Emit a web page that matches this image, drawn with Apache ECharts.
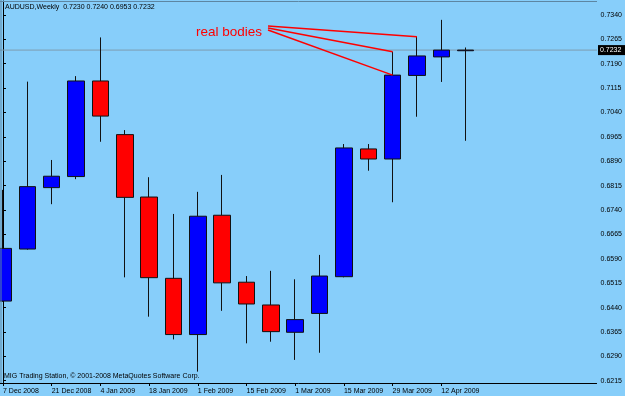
<!DOCTYPE html>
<html><head><meta charset="utf-8">
<script src="https://cdn.jsdelivr.net/npm/echarts@6/dist/echarts.min.js"></script>
<style>html,body{margin:0;padding:0;background:#87CEFA}#c{width:625px;height:396px}</style>
</head><body><div id="c"></div>
<script>
// Weekly candles (AUDUSD)
const weeks = ['7 Dec 2008','14 Dec 2008','21 Dec 2008','28 Dec 2008','4 Jan 2009','11 Jan 2009','18 Jan 2009','25 Jan 2009','1 Feb 2009','8 Feb 2009','15 Feb 2009','22 Feb 2009','1 Mar 2009','8 Mar 2009','15 Mar 2009','22 Mar 2009','29 Mar 2009','5 Apr 2009','12 Apr 2009','19 Apr 2009'];
const opens  = [0.6460,0.6620,0.6809,0.6843,0.7137,0.6972,0.6780,0.6530,0.6357,0.6724,0.6518,0.6448,0.6364,0.6422,0.6535,0.6928,0.6897,0.7154,0.7211,0.7230];
const highs  = [0.6802,0.7135,0.6894,0.7152,0.7271,0.6986,0.6841,0.6728,0.6796,0.6848,0.6537,0.6553,0.6527,0.6602,0.6943,0.6943,0.7227,0.7273,0.7325,0.7240];
const lows   = [0.6458,0.6618,0.6758,0.6835,0.6950,0.6533,0.6412,0.6342,0.6243,0.6430,0.6330,0.6335,0.6279,0.6301,0.6533,0.6861,0.6764,0.7027,0.7134,0.6953];
const closes = [0.6622,0.6812,0.6844,0.7137,0.7029,0.6779,0.6532,0.6357,0.6721,0.6516,0.6451,0.6366,0.6403,0.6537,0.6931,0.6897,0.7155,0.7214,0.7232,0.7232];
const xTickWeeks = ['7 Dec 2008','21 Dec 2008','4 Jan 2009','18 Jan 2009','1 Feb 2009','15 Feb 2009','1 Mar 2009','15 Mar 2009','29 Mar 2009','12 Apr 2009'];
const yTickValues = [0.6215,0.6290,0.6365,0.6440,0.6515,0.6590,0.6665,0.6740,0.6815,0.6890,0.6965,0.7040,0.7115,0.7190,0.7265,0.7340];
const symbolTitle = 'AUDUSD,Weekly';
const copyrightText = 'MIG Trading Station, \u00A9 2001-2008 MetaQuotes Software Corp.';
const annotationText = 'real bodies';
const annotationTargets = [[17,'high'],[16,'high'],[16,'close']];

const FONT = 'Liberation Sans';
const candleData = opens.map((o,i)=>[i, o, closes[i], lows[i], highs[i]]);
const xTickIdx = xTickWeeks.map(w => weeks.indexOf(w));
const last = opens.length - 1;
const titleStr = symbolTitle + '  ' + [opens[last], highs[last], lows[last], closes[last]].map(v=>v.toFixed(4)).join(' ');

const chart = echarts.init(document.getElementById('c'), null, {renderer:'canvas'});
const option = {
  backgroundColor: '#87CEFA',
  animation: false,
  grid: {left: 0, right: 28, top: 1, bottom: 13, show: false},
  xAxis: {
    type: 'value', min: -0.111, max: 24.376,
    axisLine: {show: true, lineStyle: {color: '#000', width: 1}},
    axisTick: {show: true, length: 3, lineStyle: {color: '#000'}, customValues: xTickIdx},
    axisLabel: {customValues: xTickIdx, formatter: v => weeks[Math.round(v)] || '',
      align: 'left', margin: 5, fontFamily: FONT, fontSize: 7, color: '#000'},
    splitLine: {show: false}
  },
  yAxis: {
    type: 'value', position: 'right', min: 0.6208, max: 0.7383,
    axisLine: {show: true, lineStyle: {color: '#000', width: 1}},
    axisTick: {show: true, length: 3, lineStyle: {color: '#000'}, customValues: yTickValues},
    axisLabel: {customValues: yTickValues, formatter: v => v.toFixed(4), margin: 4,
      fontFamily: FONT, fontSize: 7, color: '#000'},
    splitLine: {show: false}
  },
  series: [{
    type: 'candlestick', data: candleData, barWidth: 17,
    encode: {x: 0, y: [1, 2, 3, 4]},
    itemStyle: {color: '#0000FF', color0: '#FF0000', borderColor: '#111', borderColor0: '#111', borderWidth: 1}
  }],
  graphic: []
};
chart.setOption(option);

const yLast = chart.convertToPixel({gridIndex: 0}, [0, closes[last]])[1];
const g = [
  {type:'line', shape:{x1:0, y1:yLast, x2:597, y2:yLast}, style:{stroke:'#7d9cb0', lineWidth:1}, z:1, silent:true},
  {type:'rect', shape:{x:598, y:yLast-5, width:27, height:10}, style:{fill:'#000'}, z:20},
  {type:'text', x:600, y:yLast, style:{text: closes[last].toFixed(4), fontFamily: FONT, fontSize: 7, fill:'#fff', verticalAlign:'middle'}, z:21},
  {type:'line', shape:{x1:1, y1:0, x2:1, y2:383}, style:{stroke:'#5d86a2', lineWidth:1}, z:10},
  {type:'line', shape:{x1:0, y1:1.5, x2:597, y2:1.5}, style:{stroke:'#5d86a2', lineWidth:1}, z:10},
  {type:'text', left: 5, top: 4, style:{text: titleStr, fontFamily: FONT, fontSize: 7, fill:'#000'}, z:10},
  {type:'text', left: 4, top: 373, style:{text: copyrightText, fontFamily: FONT, fontSize: 7, fill:'#000'}, z:10},
  {type:'text', left: 196, top: 25, style:{text: annotationText, fontFamily: FONT, fontSize: 13.5, fill:'#FF0000'}, z:10}
];
const starts = [[268,26],[268,28],[268,30]];
annotationTargets.forEach((t, k) => {
  const idx = t[0];
  const val = t[1] === 'high' ? highs[idx] : closes[idx];
  const p = chart.convertToPixel({gridIndex: 0}, [idx, val]);
  g.push({type:'line', shape:{x1: starts[k][0], y1: starts[k][1], x2: p[0], y2: p[1]},
    style:{stroke:'#FF0000', lineWidth:1.5}, z:11});
});
chart.setOption({graphic: g});
</script></body></html>
